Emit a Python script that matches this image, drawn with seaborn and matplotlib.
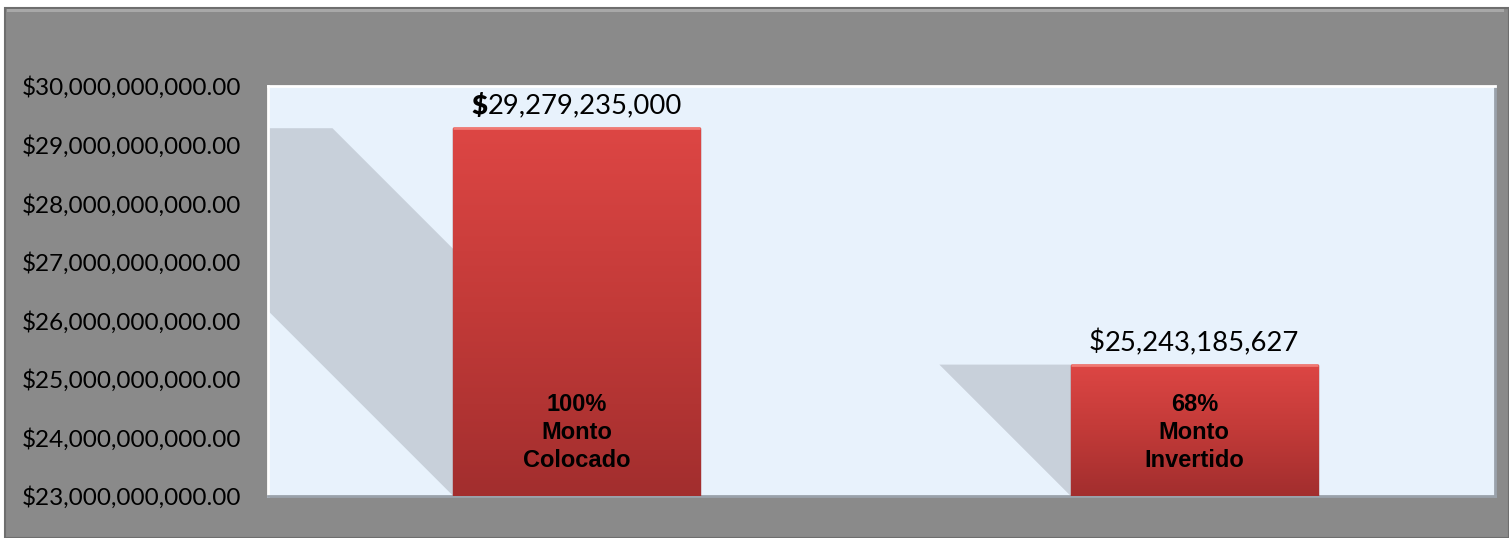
import matplotlib
matplotlib.use("Agg")
import matplotlib.pyplot as plt
import numpy as np
import seaborn as sns
from matplotlib.colors import LinearSegmentedColormap
from matplotlib.patches import Polygon, Rectangle
from matplotlib.ticker import FuncFormatter

# data
categorias = ["Monto Colocado", "Monto Invertido"]
montos = [29279235000, 25243185627]
porcentajes = ["100%", "68%"]
dolar_negrita = [True, False]
y_min, y_max, y_paso = 23e9, 30e9, 1e9

W, H, DPI = 1509, 538, 100
FRAME = "#8a8a8a"
PLOT_BG = "#e8f2fc"
SHADOW = "#c8d0da"

sns.set_theme(style="white")
plt.rcParams["font.family"] = ["Lato", "DejaVu Sans"]
plt.rcParams["text.color"] = "black"

fig = plt.figure(figsize=(W / DPI, H / DPI), dpi=DPI, facecolor="white")

# gray chart frame with a light bevel on top/left
fig.patches.append(Rectangle((5 / W, 0), 1 - 5 / W, 1 - 8 / H, transform=fig.transFigure,
                             facecolor=FRAME, edgecolor="#6e6e6e", lw=1.5, zorder=-2))
fig.patches.append(Rectangle((7 / W, 1 - 12 / H), 1 - 12 / W, 3 / H, transform=fig.transFigure,
                             facecolor="#a8a8a8", edgecolor="none", zorder=-1))

ax = fig.add_axes([268 / W, 1 - 496 / H, (1495 - 268) / W, (496 - 86) / H])
ax.set_facecolor(PLOT_BG)

sns.barplot(x=categorias, y=montos, color="#d84442", width=0.4, ax=ax,
            saturation=1, zorder=3)
X_LIM = (-0.5, 1.487)
ax.set_ylim(y_min, y_max)
ax.set_xlim(*X_LIM)
ax.set_yticks(np.arange(y_min, y_max + 1, y_paso))
ax.yaxis.set_major_formatter(FuncFormatter(lambda v, _: f"${v:,.2f}"))
ax.tick_params(axis="y", labelsize=17.5, colors="black", pad=19, length=0)
ax.set_xticks([])
ax.set_xlabel("")
ax.set_ylabel("")
for lado, sp in ax.spines.items():
    sp.set_visible(True)
    sp.set_linewidth(2)
ax.spines["top"].set_color("white")
ax.spines["left"].set_color("white")
ax.spines["bottom"].set_color("#9aa2ab")
ax.spines["right"].set_color("#9aa2ab")

grad = LinearSegmentedColormap.from_list("rojo", ["#a22e2e", "#c23a38", "#dd4644"])
inv = ax.transData.inverted()
for i, bar in enumerate(ax.patches):
    x0, x1 = bar.get_x(), bar.get_x() + bar.get_width()
    top = montos[i]
    # 45-degree shadow cast to the left
    (px0, py_top), (px1, py_bot) = ax.transData.transform([(x0, top), (x1, y_min)])
    h = py_top - py_bot
    pts = inv.transform([(px0 - h, py_top), (px1 - h, py_top), (px1, py_bot), (px0, py_bot)])
    ax.add_patch(Polygon(pts, closed=True, facecolor=SHADOW, edgecolor="none", zorder=1,
                         clip_on=True))
    # vertical red gradient inside the bar
    img = ax.imshow(np.linspace(0, 1, 256).reshape(-1, 1), cmap=grad, origin="lower",
                    aspect="auto", extent=[x0, x1, y_min, top], zorder=3.5)
    img.set_clip_path(bar)
    bar.set_edgecolor("#8f2a2a")
    bar.set_linewidth(1)
    ax.add_patch(Rectangle((x0, top), x1 - x0, 0, edgecolor="#f07a74", lw=2,
                           facecolor="none", zorder=4))
    # label inside bar
    ax.text((x0 + x1) / 2, y_min + 1.08e9, porcentajes[i] + "\n" + categorias[i].replace(" ", "\n"),
            ha="center", va="center", fontsize=17, fontweight="bold",
            family=["Liberation Sans", "DejaVu Sans"], linespacing=1.27, color="black",
            zorder=5)

ax.set_xlim(*X_LIM)
ax.set_ylim(y_min, y_max)

# value labels above bars, first one with a bold dollar sign
fig.canvas.draw()
rend = fig.canvas.get_renderer()
for i, bar in enumerate(ax.patches[:len(montos)]):
    cx = bar.get_x() + bar.get_width() / 2
    numero = f"{montos[i]:,.0f}"
    t_d = ax.annotate("$", (cx, montos[i]), xytext=(0, 8), textcoords="offset points",
                      ha="left", va="bottom", fontsize=19.7, color="black",
                      fontweight="heavy" if dolar_negrita[i] else "normal", zorder=6)
    t_n = ax.annotate(numero, (cx, montos[i]), xytext=(0, 8), textcoords="offset points",
                      ha="left", va="bottom", fontsize=19.7, color="black", zorder=6)
    wd = t_d.get_window_extent(rend).width
    wn = t_n.get_window_extent(rend).width
    start = -(wd + wn) / 2 * 72 / DPI
    t_d.set_position((start, 7))
    t_n.set_position((start + wd * 72 / DPI, 7))

fig.savefig("out.png", dpi=DPI)
